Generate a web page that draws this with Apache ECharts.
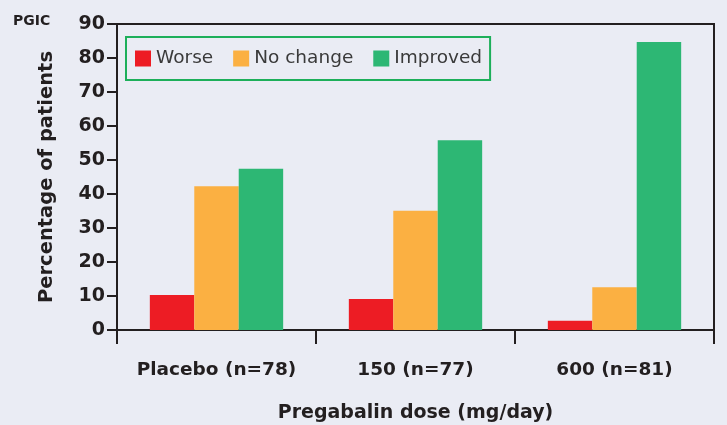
<!DOCTYPE html>
<html>
<head>
<meta charset="utf-8">
<style>
  html, body { margin: 0; padding: 0; background: #EAECF4; }
  #chart { width: 727px; height: 425px; }
</style>
<script src="https://cdn.jsdelivr.net/npm/echarts@6/dist/echarts.min.js"></script>
</head>
<body>
<div id="chart"></div>
<script>
// PGIC response by pregabalin dose
const categories = ['Placebo (n=78)', '150 (n=77)', '600 (n=81)'];
const worse = [10.3, 9.1, 2.7];
const noChange = [42.3, 35.1, 12.6];
const improved = [47.4, 55.8, 84.7];
const yTicks = [0, 10, 20, 30, 40, 50, 60, 70, 80, 90];

const ink = '#231F20';
const font = 'DejaVu Sans';

const chart = echarts.init(document.getElementById('chart'));
chart.setOption({
  backgroundColor: '#EAECF4',
  animation: false,
  textStyle: { fontFamily: font },
  graphic: [{
    type: 'text', left: 13, top: 14,
    style: { text: 'PGIC', fontFamily: font, fontWeight: 'bold', fontSize: 14, fill: ink }
  }],
  legend: {
    left: 126, top: 37,
    padding: [12, 8, 12, 9],
    borderColor: '#1DAF5A', borderWidth: 2,
    itemWidth: 16, itemHeight: 16, itemGap: 20,
    icon: 'rect',
    textStyle: { fontFamily: font, fontSize: 18.5, color: '#3A3A3A' },
    data: ['Worse', 'No change', 'Improved']
  },
  grid: {
    left: 117, right: 13, top: 24, bottom: 95,
    outerBoundsMode: 'none',
    containLabel: false,
    show: true, borderColor: ink, borderWidth: 2,
    backgroundColor: 'transparent'
  },
  xAxis: {
    type: 'category',
    data: categories,
    name: 'Pregabalin dose (mg/day)',
    nameLocation: 'middle', nameGap: 74,
    nameTextStyle: { fontFamily: font, fontWeight: 'bold', fontSize: 19, color: ink },
    axisLine: { lineStyle: { color: ink, width: 2 } },
    axisTick: { show: true, interval: 0, length: 14, lineStyle: { color: ink, width: 2 } },
    axisLabel: { interval: 0, margin: 31, fontFamily: font, fontWeight: 'bold', fontSize: 18.5, color: ink }
  },
  yAxis: {
    type: 'value',
    min: yTicks[0], max: yTicks[yTicks.length - 1], interval: 10,
    name: 'Percentage of patients',
    nameLocation: 'middle', nameGap: 60,
    nameTextStyle: { fontFamily: font, fontWeight: 'bold', fontSize: 19.5, color: ink },
    axisLine: { show: true, lineStyle: { color: ink, width: 2 } },
    axisTick: { show: true, length: 10, lineStyle: { color: ink, width: 2 } },
    axisLabel: { margin: 12, fontFamily: font, fontWeight: 'bold', fontSize: 19, color: ink },
    splitLine: { show: false }
  },
  series: [
    { name: 'Worse', type: 'bar', data: worse, itemStyle: { color: '#ED1C24' }, barGap: '0%', barCategoryGap: '33%' },
    { name: 'No change', type: 'bar', data: noChange, itemStyle: { color: '#FBB042' } },
    { name: 'Improved', type: 'bar', data: improved, itemStyle: { color: '#2DB774' } }
  ]
});
</script>
</body>
</html>
